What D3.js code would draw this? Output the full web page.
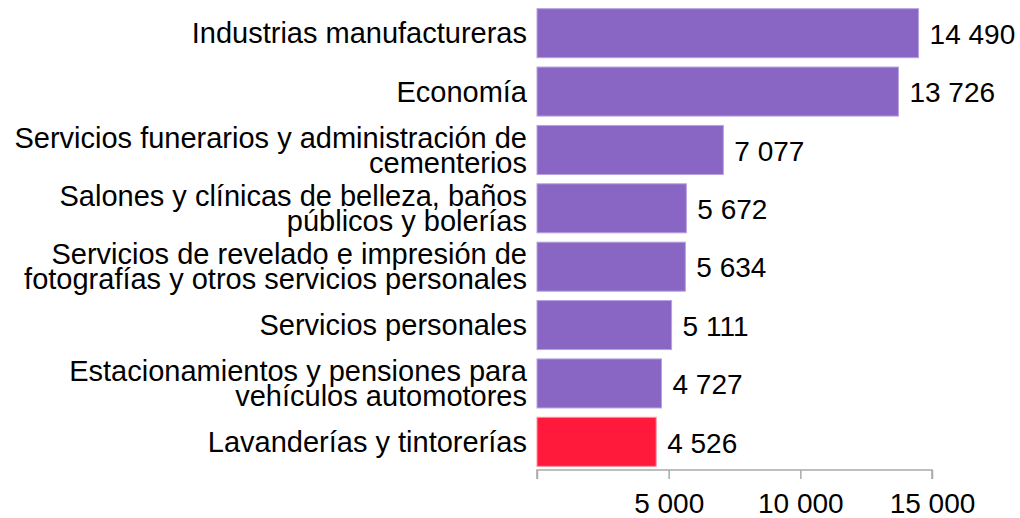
<!DOCTYPE html>
<html>
<head>
<meta charset="utf-8">
<script src="https://cdn.jsdelivr.net/npm/d3@7"></script>
<style>
  body { margin: 0; background: #fff; }
  text { font-family: "Liberation Sans", Arial, sans-serif; fill: #000; }
</style>
</head>
<body>
<div id="chart"></div>
<script>
(() => {
  const width = 1020;
  const height = 518;

  const categories = [
    "Industrias manufactureras",
    "Economía",
    "Servicios funerarios y administración de\ncementerios",
    "Salones y clínicas de belleza, baños\npúblicos y bolerías",
    "Servicios de revelado e impresión de\nfotografías y otros servicios personales",
    "Servicios personales",
    "Estacionamientos y pensiones para\nvehículos automotores",
    "Lavanderías y tintorerías"
  ];
  const values = [14490, 13726, 7077, 5672, 5634, 5111, 4727, 4526];
  const highlighted = ["Lavanderías y tintorerías"];
  const tickValues = [0, 5000, 10000, 15000];

  const locale = d3.formatLocale({ decimal: ".", thousands: "\u00a0", grouping: [3], currency: ["", ""] });
  const fmt = locale.format(",d");

  const data = categories.map((c, i) => ({ name: c, value: values[i] }));

  const svg = d3.select("#chart")
    .append("svg")
    .attr("width", width)
    .attr("height", height);

  const x = d3.scaleLinear()
    .domain([0, 15000])
    .range([537, 932]);

  const y = d3.scaleBand()
    .domain(categories)
    .range([4, 471])
    .paddingInner(0.16)
    .paddingOuter(0.08);

  svg.selectAll("rect.bar")
    .data(data)
    .enter()
    .append("rect")
    .attr("class", "bar")
    .attr("x", x(0))
    .attr("y", d => y(d.name))
    .attr("width", d => x(d.value) - x(0))
    .attr("height", y.bandwidth())
    .attr("fill", d => highlighted.includes(d.name) ? "#ff1a3c" : "#8966c3")
    .attr("stroke", d => highlighted.includes(d.name) ? "#ff8fa0" : "#b8a3de")
    .attr("stroke-width", 1);

  // value labels
  svg.selectAll("text.value")
    .data(data)
    .enter()
    .append("text")
    .attr("class", "value")
    .attr("x", d => x(d.value) + 11)
    .attr("y", d => y(d.name) + y.bandwidth() / 2 + 1)
    .attr("dy", "0.35em")
    .style("font-size", "28px")
    .text(d => fmt(d.value));

  // category labels, wrapped on \n
  const lineH = 25;
  const labels = svg.selectAll("text.cat")
    .data(data)
    .enter()
    .append("text")
    .attr("class", "cat")
    .attr("text-anchor", "end")
    .style("font-size", "29px");

  labels.each(function(d) {
    const lines = d.name.split("\n");
    const cy = y(d.name) + y.bandwidth() / 2;
    const start = cy - (lines.length - 1) * lineH / 2;
    d3.select(this).selectAll("tspan")
      .data(lines)
      .enter()
      .append("tspan")
      .attr("x", 527)
      .attr("y", (l, i) => start + i * lineH)
      .attr("dy", "0.35em")
      .text(l => l);
  });

  const axis = d3.axisBottom(x)
    .tickValues(tickValues)
    .tickSize(9)
    .tickPadding(14)
    .tickFormat(d => d === 0 ? "" : fmt(d));

  const gx = svg.append("g")
    .attr("transform", "translate(0,470)")
    .call(axis);

  gx.select(".domain").attr("stroke", "#aaa").attr("stroke-width", 1.5)
    .attr("d", `M${x(0)},9V0H${x(15000)}V9`);
  gx.selectAll(".tick line").attr("stroke", "#aaa").attr("stroke-width", 1.5);
  gx.selectAll(".tick text")
    .style("font-size", "28px")
    .style("font-family", "'Liberation Sans', Arial, sans-serif")
    .attr("fill", "#000");
})();
</script>
</body>
</html>
